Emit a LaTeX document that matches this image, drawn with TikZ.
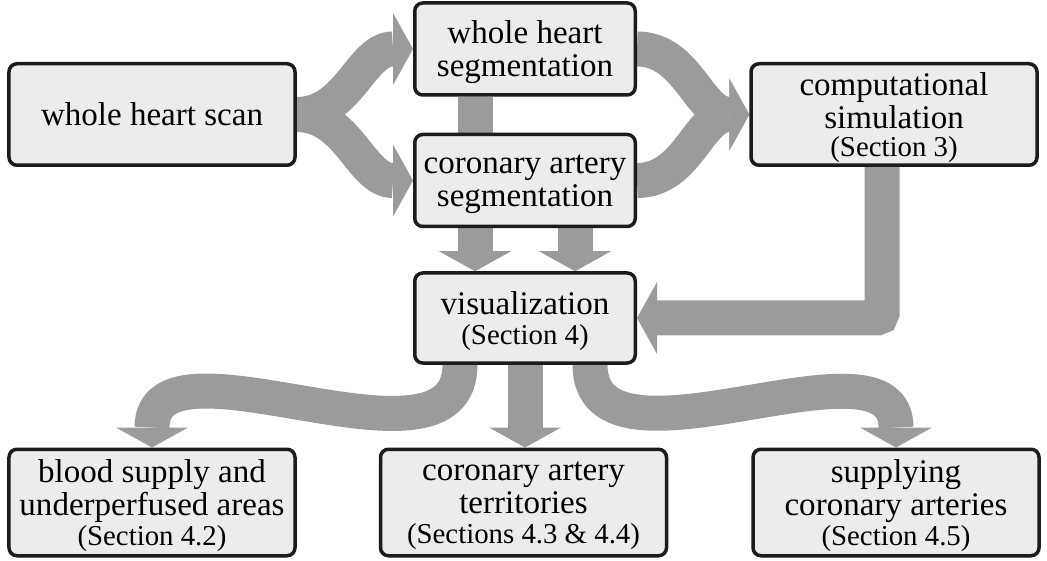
\documentclass[tikz,border=0pt]{standalone}
\usepackage{fontspec}
\setmainfont{Liberation Serif}
\usetikzlibrary{arrows.meta,backgrounds}
\definecolor{flowgray}{RGB}{153,155,157}
\definecolor{boxfill}{RGB}{236,236,236}
\definecolor{boxline}{RGB}{28,28,28}
\newcommand{\secnote}[1]{{\fontsize{16.4}{16.4}\selectfont (#1)}}

\begin{document}
\begin{tikzpicture}[
        boxed/.style={draw=boxline, fill=boxfill, line width=0.07cm, rounded corners=0.16cm,
            align=center, inner sep=0pt, text depth=0pt, font=\fontsize{18.8}{18.8}\selectfont},
        widebox/.style={boxed, minimum width=5.72cm, minimum height=2.03cm},
        midbox/.style={boxed, minimum width=4.41cm, minimum height=1.84cm},
        band/.style={draw=flowgray, line width=0.7cm},
        flow/.style={band, -{Triangle[width=1.44cm, length=0.4cm, line width=0pt]}}
    ]
        \useasboundingbox (0,0) rectangle (20.94,11.2);

        \node[widebox] (scan) at (3.04,8.91) {whole heart scan};
        \node[midbox] (whs) at (10.5,10.22) {whole heart\\segmentation};
        \node[midbox] (cas) at (10.5,7.59) {coronary artery\\segmentation};
        \node[midbox, minimum height=1.8cm] (vis) at (10.5,4.84) {visualization\\[-2pt]\secnote{Section 4}};
        \node[widebox, text depth=-0.12cm] (sim) at (17.88,8.91) {computational\\simulation\\[-3pt]\secnote{Section 3}};
        \node[widebox, minimum height=2.13cm] (blood) at (3.04,1.15) {blood supply and\\underperfused areas\\[-2pt]\secnote{Section 4.2}};
        \node[widebox, minimum height=2.13cm] (terr) at (10.47,1.15) {coronary artery\\territories\\[-2pt]\secnote{Sections 4.3 \& 4.4}};
        \node[widebox, minimum height=2.13cm] (supp) at (17.92,1.15) {supplying\\coronary arteries\\[-2pt]\secnote{Section 4.5}};

        \begin{pgfonlayer}{background}
            \draw[flow] (scan.east) to[out=0, in=180] (whs.west);
            \draw[flow] (scan.east) to[out=0, in=180] (cas.west);
            \draw[flow] (whs.east) to[out=0, in=180] (sim.west);
            \draw[flow] (cas.east) to[out=0, in=180] (sim.west);
            \draw[flow] ([xshift=-1cm]whs.south) -- ([xshift=-1cm]vis.north);
            \draw[flow] ([xshift=1cm]cas.south) -- ([xshift=1cm]vis.north);
            \draw[flow, rounded corners=0.1cm] ([xshift=-0.24cm]sim.south) |- (vis.east);
            \draw[flow] ([xshift=-1.3cm]vis.south) to[out=-90, in=90] (blood.north);
            \draw[flow] (vis.south) -- (vis.south |- terr.north);
            \draw[flow] ([xshift=1.3cm]vis.south) to[out=-90, in=90] (supp.north);
        \end{pgfonlayer}
    \end{tikzpicture}
\end{document}
